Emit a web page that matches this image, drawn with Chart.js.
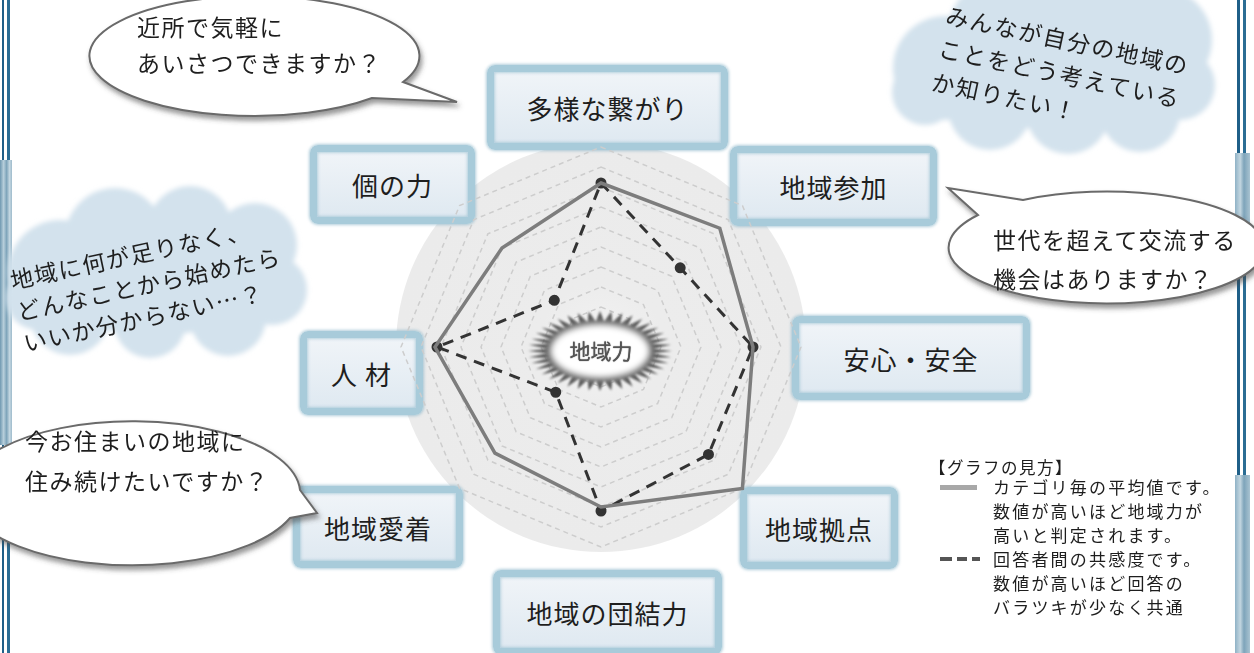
<!DOCTYPE html>
<html><head><meta charset="utf-8">
<script src="https://cdn.jsdelivr.net/npm/chart.js@4.4.0/dist/chart.umd.min.js"></script>
<style>
html,body{margin:0;padding:0;background:#fff;}
body{width:1254px;height:653px;position:relative;overflow:hidden;font-family:"Noto Sans CJK JP","Noto Sans",sans-serif;color:#222;}
.abs{position:absolute;}
.box{position:absolute;box-sizing:border-box;border:7px solid #a8cbda;border-radius:8px;background:linear-gradient(#f0f4f8,#dfe9f1);box-shadow:0 0 3px 1px rgba(135,180,200,0.65), inset 0 0 3px 1px rgba(135,180,200,0.55);display:flex;align-items:center;justify-content:center;font-size:26px;letter-spacing:1px;color:#1e1e1e;z-index:2;}
.txt{position:absolute;white-space:pre;z-index:6;color:#1e1e1e;}
.bline{position:absolute;}
</style></head>
<body>
<div class="abs" id="halo" style="left:396px;top:142px;width:410px;height:410px;border-radius:50%;background:radial-gradient(circle at center,#f3f3f3 0%,#ececec 22%,#ebebeb 70%,#f2f2f2 88%,rgba(255,255,255,0) 100%);z-index:0"></div>

<!-- borders -->
<div class="bline" style="left:2px;top:0;width:2px;height:160px;background:#1f5f88"></div>
<div class="bline" style="left:7px;top:0;width:3px;height:160px;background:#2b6d94"></div>
<div class="bline" style="left:0;top:160px;width:12px;height:285px;background:linear-gradient(to right,#6f98b0,#b8cfdb 30%,#7ea4ba 55%,#c5d8e2 80%,#9dbacb)"></div>
<div class="bline" style="left:2px;top:445px;width:2px;height:208px;background:#1f5f88"></div>
<div class="bline" style="left:7px;top:445px;width:3px;height:208px;background:#2b6d94"></div>

<div class="bline" style="left:1237px;top:0;width:3px;height:153px;background:#1f5f88"></div>
<div class="bline" style="left:1243px;top:0;width:3px;height:153px;background:#2b6d94"></div>
<div class="bline" style="left:1235px;top:153px;width:15px;height:110px;background:linear-gradient(to right,#8fb2c6,#c3d6e0 35%,#7ea4ba 60%,#a9c3d1)"></div>
<div class="bline" style="left:1237px;top:263px;width:3px;height:212px;background:#1f5f88"></div>
<div class="bline" style="left:1243px;top:263px;width:3px;height:212px;background:#2b6d94"></div>
<div class="bline" style="left:1235px;top:475px;width:15px;height:178px;background:linear-gradient(to right,#8fb2c6,#c3d6e0 35%,#7ea4ba 60%,#a9c3d1)"></div>

<!-- clouds -->
<svg class="abs" width="1254" height="653" style="left:0;top:0;z-index:1">
<defs>
<filter id="soft" x="-20%" y="-20%" width="140%" height="140%"><feGaussianBlur stdDeviation="2.5"/></filter>
</defs>
<g fill="#d3e2ed" filter="url(#soft)">
<circle cx="945" cy="68" r="52"/><circle cx="1005" cy="35" r="58"/><circle cx="1085" cy="25" r="62"/><circle cx="1160" cy="40" r="52"/>
<circle cx="1180" cy="85" r="35"/><circle cx="1140" cy="112" r="40"/><circle cx="1068" cy="112" r="42"/><circle cx="990" cy="108" r="42"/><circle cx="925" cy="92" r="33"/>
<ellipse cx="1060" cy="75" rx="120" ry="55"/>
<circle cx="60" cy="272" r="52"/><circle cx="115" cy="238" r="50"/><circle cx="190" cy="228" r="42"/><circle cx="255" cy="245" r="42"/>
<circle cx="272" cy="290" r="35"/><circle cx="228" cy="318" r="38"/><circle cx="150" cy="322" r="36"/><circle cx="70" cy="315" r="40"/><circle cx="38" cy="298" r="32"/>
<ellipse cx="155" cy="280" rx="120" ry="55"/>
</g>
</svg>

<!-- boxes -->
<div class="box" id="b0" style="left:487px;top:65px;width:241px;height:85px"></div>
<div class="box" id="b1" style="left:730px;top:146px;width:207px;height:80px"></div>
<div class="box" id="b2" style="left:792px;top:316px;width:238px;height:84px"></div>
<div class="box" id="b3" style="left:740px;top:487px;width:158px;height:82px"></div>
<div class="box" id="b4" style="left:493px;top:570px;width:229px;height:85px"></div>
<div class="box" id="b5" style="left:293px;top:486px;width:170px;height:82px"></div>
<div class="box" id="b6" style="left:300px;top:331px;width:123px;height:84px"></div>
<div class="box" id="b7" style="left:310px;top:145px;width:165px;height:79px"></div>

<!-- chart -->
<div class="abs" style="left:381px;top:127px;width:440px;height:440px;z-index:3">
<canvas id="c" width="440" height="440"></canvas>
</div>
<div class="txt" style="left:556px;top:335px;width:90px;text-align:center;font-size:21px;line-height:30px;color:#555;letter-spacing:0;z-index:4;text-shadow:0 0 1px #333">地域力</div>

<!-- speech bubbles -->
<svg class="abs" width="1254" height="653" style="left:0;top:0;z-index:5">
<defs>
<filter id="sh" x="-10%" y="-10%" width="130%" height="140%"><feDropShadow dx="2" dy="4" stdDeviation="2.5" flood-color="#444" flood-opacity="0.55"/></filter>
</defs>
<g fill="#fff" stroke="#6a6a6a" stroke-width="2" filter="url(#sh)">
<path d="M 403 82 L 457 102 L 372 98 A 165 60 0 1 1 403 82 Z"/>
<path d="M 1023 200 L 948 188 L 978 215 A 158 56 0 1 0 1023 200 Z"/>
<path d="M 300 490 L 317 513 L 290 518 A 168 72 0 1 1 300 490 Z"/>
</g>
</svg>

<!-- bubble texts -->
<div class="txt" style="left:137px;top:8px;font-size:23px;line-height:36px;letter-spacing:1.5px">近所で気軽に
あいさつできますか？</div>
<div class="txt" style="left:993px;top:220px;font-size:23px;line-height:39px;letter-spacing:1.5px">世代を超えて交流する
機会はありますか？</div>
<div class="txt" style="left:25px;top:420px;font-size:23px;line-height:40px;letter-spacing:1.5px">今お住まいの地域に
住み続けたいですか？</div>

<!-- cloud texts -->
<div class="txt" style="left:950px;top:-3px;font-size:23px;line-height:34px;letter-spacing:1.8px;transform-origin:0 0;transform:rotate(12deg)">みんなが自分の地域の
ことをどう考えている
か知りたい！</div>
<div class="txt" style="left:7px;top:264px;font-size:23px;line-height:32px;letter-spacing:1.5px;transform-origin:0 0;transform:rotate(-12deg)">地域に何が足りなく、
どんなことから始めたら
いいか分からない…？</div>

<!-- legend -->
<div class="txt" style="left:929px;top:455px;font-size:16.5px;line-height:24px;letter-spacing:1.5px">【グラフの見方】</div>
<div class="abs" style="left:940px;top:485px;width:37px;height:5px;background:#a8a8a8;z-index:6"></div>
<div class="abs" style="left:940px;top:557px;width:12px;height:4px;background:#555;z-index:6"></div>
<div class="abs" style="left:957px;top:557px;width:10px;height:4px;background:#555;z-index:6"></div>
<div class="abs" style="left:972px;top:557px;width:8px;height:4px;background:#555;z-index:6"></div>
<div class="txt" style="left:993px;top:475px;font-size:17px;line-height:24px;letter-spacing:2.2px">カテゴリ毎の平均値です。
数値が高いほど地域力が
高いと判定されます。
回答者間の共感度です。
数値が高いほど回答の
バラツキが少なく共通</div>

<script>
const categories = ['多様な繋がり','地域参加','安心・安全','地域拠点','地域の団結力','地域愛着','人 材','個の力'];
const averageValues = [4.1, 4.2, 3.8, 5.0, 4.0, 3.75, 4.15, 3.5];
const empathyValues = [4.1, 2.8, 3.8, 3.8, 4.1, 1.6, 4.1, 1.65];
const scaleMax = 5.5;
const scaleStep = 0.5;
const ringLimit = 5;

categories.forEach((c, i) => { document.getElementById('b' + i).textContent = c; });

const burst = {
  id: 'burst',
  beforeDatasetsDraw(chart) {
    const s = chart.scales.r, ctx = chart.ctx;
    const cx = s.xCenter - 1, cy = s.yCenter + 4;
    ctx.save();
    const n = 40;
    ctx.filter = 'blur(0.8px)';
    ctx.beginPath();
    for (let i = 0; i < n * 2; i++) {
      const a = i * Math.PI / n;
      const f = i % 2 ? 0.74 : 1;
      ctx.lineTo(cx + 72 * f * Math.cos(a), cy + 40 * f * Math.sin(a));
    }
    ctx.closePath();
    ctx.fillStyle = '#5a5a5a';
    ctx.fill();
    ctx.filter = 'blur(4px)';
    ctx.beginPath();
    ctx.ellipse(cx, cy, 48, 25, 0, 0, Math.PI * 2);
    ctx.fillStyle = '#fff';
    ctx.fill();
    ctx.fill();
    ctx.restore();
  }
};

new Chart(document.getElementById('c'), {
  type: 'radar',
  data: {
    labels: categories,
    datasets: [
      { label: 'カテゴリ毎の平均値', data: averageValues, borderColor: '#7d7d7d', borderWidth: 3.5, pointRadius: 0, fill: false },
      { label: '回答者間の共感度', data: empathyValues, borderColor: '#333', borderWidth: 3, borderDash: [11, 8], pointRadius: 4, pointBackgroundColor: '#333', pointBorderColor: '#333', fill: false }
    ]
  },
  options: {
    responsive: false,
    animation: false,
    layout: { padding: 0 },
    plugins: { legend: { display: false }, tooltip: { enabled: false } },
    scales: {
      r: {
        min: 0, max: scaleMax,
        ticks: { display: false, stepSize: scaleStep },
        pointLabels: { display: false },
        angleLines: { display: false },
        grid: { color: (c) => (c.tick && c.tick.value > ringLimit) ? 'rgba(0,0,0,0)' : '#cdcdcd', lineWidth: 1.5, circular: false },
        border: { dash: [5, 4] }
      }
    }
  },
  plugins: [burst]
});
</script>
</body></html>
